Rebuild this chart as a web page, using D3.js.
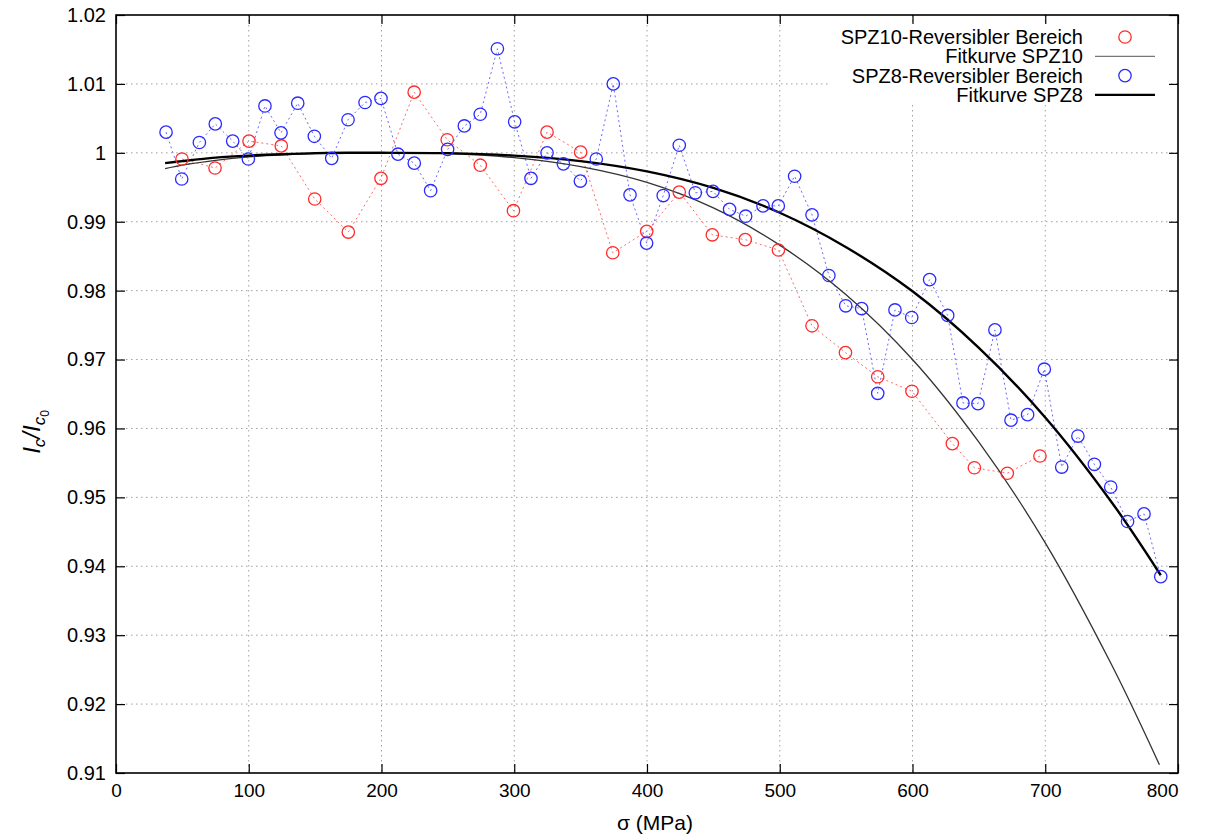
<!DOCTYPE html>
<html>
<head>
<meta charset="utf-8">
<script src="https://cdn.jsdelivr.net/npm/d3@7"></script>
<style>
  body { margin: 0; background: #fff; }
  svg { display: block; }
  text { font-family: "Liberation Sans", Arial, Helvetica, sans-serif; fill: #000; }
</style>
</head>
<body>
<div id="chart"></div>
<script>
// SPZ10 measured points (reversible range)
const spz10Sigma = [49.7, 74.6, 100.2, 124.5, 149.7, 175, 199.6, 224.6, 249.5, 274.4, 299.4, 324.7, 350, 374.2,
  399.8, 424.3, 449.2, 474, 499, 524.3, 549.5, 573.8, 599.6, 630, 646.6, 671.4, 696];
const spz10Ratio = [0.9991, 0.9978, 1.0017, 1.0010, 0.9933, 0.9885, 0.9963, 1.0088, 1.0019, 0.9982, 0.9916, 1.0030, 1.0001, 0.9855,
  0.9886, 0.9943, 0.9881, 0.9874, 0.9859, 0.9749, 0.9710, 0.9675, 0.9654, 0.9578, 0.9543, 0.9535, 0.9560];

// SPZ8 measured points (reversible range)
const spz8Sigma = [37.7, 49.5, 62.8, 74.8, 87.9, 99.7, 112.2, 124.3, 136.9, 149.4, 162.5, 174.8, 187.6, 199.6, 212.4,
  224.7, 237, 249.8, 262.4, 274.4, 287.3, 300.3, 312.6, 324.7, 337, 349.8, 361.8, 374.6, 387.2, 399.7, 412.2, 424.3,
  436.4, 449.7, 462.2, 474.3, 487.4, 498.9, 511.2, 524.3, 537, 549.7, 561.7, 573.8, 586.8, 599.4, 612.9, 626.5, 638,
  649.3, 662.1, 674.2, 686.7, 699.3, 712.4, 724.6, 737, 749.3, 762, 774.4, 787];
const spz8Ratio = [1.0030, 0.9962, 1.0015, 1.0042, 1.0017, 0.9991, 1.0068, 1.0029, 1.0072, 1.0024, 0.9992, 1.0048, 1.0073, 1.0079, 0.9998,
  0.9985, 0.9945, 1.0005, 1.0039, 1.0056, 1.0151, 1.0045, 0.9963, 1.0000, 0.9984, 0.9959, 0.9991, 1.0100, 0.9939, 0.9869, 0.9938, 1.0011,
  0.9942, 0.9944, 0.9918, 0.9908, 0.9923, 0.9923, 0.9966, 0.9910, 0.9822, 0.9778, 0.9774, 0.9651, 0.9772, 0.9761, 0.9816, 0.9764, 0.9637,
  0.9636, 0.9743, 0.9612, 0.9620, 0.9686, 0.9544, 0.9589, 0.9548, 0.9515, 0.9465, 0.9476, 0.9385];

// fit curves
const fit10Sigma = [37, 50, 75, 100, 125, 150, 175, 200, 250, 300, 350, 400, 450, 500, 550, 600, 650, 700, 750, 786];
const fit10Ratio = [0.9977, 0.9982, 0.9989, 0.9994, 0.9997, 0.9999, 1.0000, 1.0000, 0.9999, 0.9993, 0.9980, 0.9957, 0.9920, 0.9866,
  0.9794, 0.9700, 0.9580, 0.9434, 0.9257, 0.9112];
const fit8Sigma = [37, 50, 75, 100, 125, 150, 175, 200, 250, 300, 350, 400, 450, 500, 550, 600, 650, 700, 750, 787];
const fit8Ratio = [0.9985, 0.9988, 0.9993, 0.9996, 0.9998, 0.99995, 1.0000, 1.0000, 0.99995, 0.9996, 0.9988, 0.9973, 0.9949, 0.9913,
  0.9863, 0.9799, 0.9717, 0.9616, 0.9493, 0.9387];

const xTicks = [0, 100, 200, 300, 400, 500, 600, 700, 800];
const yTicks = [0.91, 0.92, 0.93, 0.94, 0.95, 0.96, 0.97, 0.98, 0.99, 1, 1.01, 1.02];

const legendLabels = ["SPZ10-Reversibler Bereich", "Fitkurve SPZ10", "SPZ8-Reversibler Bereich", "Fitkurve SPZ8"];

const W = 1206, H = 836;
const margin = {left: 116, top: 15, right: 28, bottom: 63};
const w = W - margin.left - margin.right,
    h = H - margin.top - margin.bottom;

const svg = d3.select("#chart").append("svg")
    .attr("width", W).attr("height", H);

const x = d3.scaleLinear().domain([0, 800]).range([0, w]);
const y = d3.scaleLinear().domain([0.91, 1.02]).range([h, 0]);

const g = svg.append("g").attr("transform", `translate(${margin.left},${margin.top})`);

// grid
g.append("g").selectAll("line").data(xTicks.slice(1, -1)).enter().append("line")
    .attr("x1", d => x(d)).attr("x2", d => x(d)).attr("y1", 0).attr("y2", h)
    .attr("stroke", "#a0a0a0").attr("stroke-width", 1).attr("stroke-dasharray", "1.5,3.5");
g.append("g").selectAll("line").data(yTicks.slice(1, -1)).enter().append("line")
    .attr("y1", d => y(d)).attr("y2", d => y(d)).attr("x1", 0).attr("x2", w)
    .attr("stroke", "#a0a0a0").attr("stroke-width", 1).attr("stroke-dasharray", "1.5,3.5");

// legend background covers grid
g.append("rect").attr("x", 712).attr("y", 10).attr("width", 340).attr("height", 80).attr("fill", "#fff");

// axes (ticks inward, mirrored)
const fmtY = d => d3.format("")(+d.toFixed(2));
function styleAxis(sel, size) {
    sel.select(".domain").remove();
    sel.selectAll(".tick line").attr("stroke", "#000").attr("stroke-width", 1.2);
    sel.selectAll(".tick text").attr("font-size", size).attr("font-family", "Liberation Sans, Arial, sans-serif");
}
const xAxisG = g.append("g").attr("transform", `translate(0,${h})`)
    .call(d3.axisBottom(x).tickValues(xTicks).tickSizeInner(-9).tickSizeOuter(0).tickPadding(11))
    .call(styleAxis, 19);
// last label sits flush with the right border, as in the original
xAxisG.selectAll(".tick text").filter(d => d === 800).attr("text-anchor", "end");

g.append("g")
    .call(d3.axisLeft(y).tickValues(yTicks).tickFormat(fmtY).tickSizeInner(-9).tickSizeOuter(0).tickPadding(10))
    .call(styleAxis, 20);
g.append("g")
    .call(d3.axisTop(x).tickValues(xTicks).tickFormat("").tickSizeInner(-9).tickSizeOuter(0))
    .call(styleAxis, 19);
g.append("g").attr("transform", `translate(${w},0)`)
    .call(d3.axisRight(y).tickValues(yTicks).tickFormat("").tickSizeInner(-9).tickSizeOuter(0))
    .call(styleAxis, 19);

g.append("rect").attr("width", w).attr("height", h)
    .attr("fill", "none").attr("stroke", "#000").attr("stroke-width", 1.6);

// data series
const red = "#ff2a2a", blue = "#2a2aff";
const dotted = d3.line().x(d => x(d[0])).y(d => y(d[1]));
const smooth = d3.line().x(d => x(d[0])).y(d => y(d[1])).curve(d3.curveCatmullRom);

const spz10 = spz10Sigma.map((s, i) => [s, spz10Ratio[i]]);
const spz8 = spz8Sigma.map((s, i) => [s, spz8Ratio[i]]);

g.append("path").datum(spz10).attr("d", dotted)
    .attr("fill", "none").attr("stroke", red).attr("stroke-opacity", 0.7)
    .attr("stroke-width", 1).attr("stroke-dasharray", "2,3");
g.append("path").datum(spz8).attr("d", dotted)
    .attr("fill", "none").attr("stroke", blue).attr("stroke-opacity", 0.7)
    .attr("stroke-width", 1).attr("stroke-dasharray", "2,3");

g.append("path").datum(fit10Sigma.map((s, i) => [s, fit10Ratio[i]])).attr("d", smooth)
    .attr("fill", "none").attr("stroke", "#333").attr("stroke-width", 1.3);
g.append("path").datum(fit8Sigma.map((s, i) => [s, fit8Ratio[i]])).attr("d", smooth)
    .attr("fill", "none").attr("stroke", "#000").attr("stroke-width", 2.4);

g.append("g").selectAll("circle").data(spz10).enter().append("circle")
    .attr("cx", d => x(d[0])).attr("cy", d => y(d[1])).attr("r", 6.2)
    .attr("fill", "none").attr("stroke", red).attr("stroke-width", 1.3);
g.append("g").selectAll("circle").data(spz8).enter().append("circle")
    .attr("cx", d => x(d[0])).attr("cy", d => y(d[1])).attr("r", 6.2)
    .attr("fill", "none").attr("stroke", blue).attr("stroke-width", 1.3);

// legend
const leg = g.append("g").attr("transform", "translate(0,22)");
legendLabels.forEach((t, i) => {
    const ly = i * 19.3;
    leg.append("text").attr("x", 967).attr("y", ly).attr("dy", "0.35em")
        .attr("text-anchor", "end").attr("font-size", 20).text(t);
    if (i === 0 || i === 2) {
        leg.append("circle").attr("cx", 1009).attr("cy", ly).attr("r", 6.2)
            .attr("fill", "none").attr("stroke", i === 0 ? red : blue).attr("stroke-width", 1.3);
    } else {
        leg.append("line").attr("x1", 979).attr("x2", 1039).attr("y1", ly).attr("y2", ly)
            .attr("stroke", i === 1 ? "#777" : "#000").attr("stroke-width", i === 1 ? 1.3 : 2.4);
    }
});

// axis titles
svg.append("text").attr("x", 655).attr("y", 830).attr("text-anchor", "middle")
    .attr("font-size", 21).text("σ (MPa)");

const yl = svg.append("text").attr("transform", "translate(40,432) rotate(-90)")
    .attr("text-anchor", "middle")
    .attr("font-family", "Liberation Serif, Times New Roman, serif")
    .attr("font-style", "italic").attr("font-size", 24);
yl.append("tspan").text("I");
yl.append("tspan").attr("font-size", 17).attr("dy", 5).text("c");
yl.append("tspan").attr("dy", -5).text("/I");
yl.append("tspan").attr("font-size", 17).attr("dy", 5).text("c");
yl.append("tspan").attr("font-size", 12).attr("font-style", "normal").attr("dy", 4).text("0");
</script>
</body>
</html>
